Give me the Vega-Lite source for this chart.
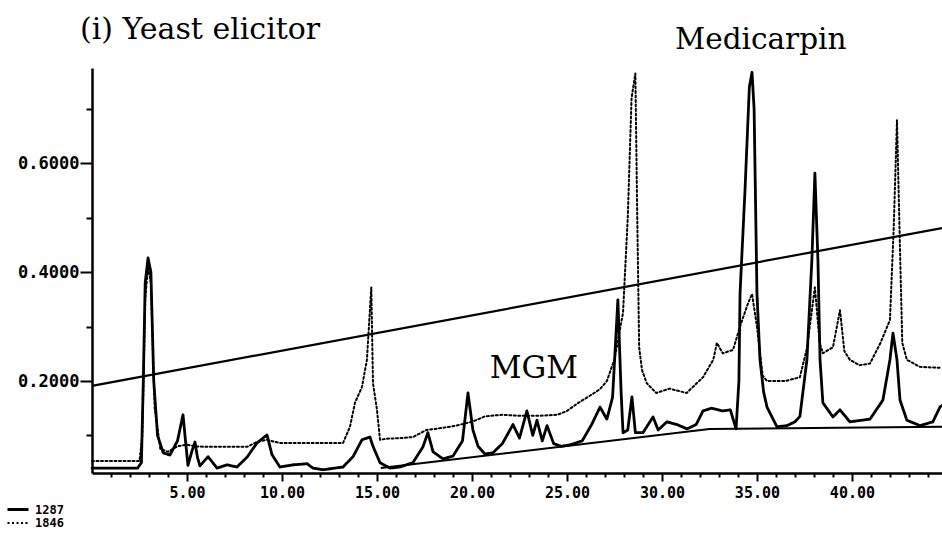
{
  "$schema": "https://vega.github.io/schema/vega-lite/v6.json",
  "autosize": {"type": "none"},
  "padding": {"left": 92, "top": 68, "right": 0, "bottom": 80},
  "width": 850,
  "height": 405,
  "background": "white",
  "config": {"view": {"stroke": null}, "axis": {"grid": false, "domainColor": "black", "tickColor": "black", "labelColor": "black"}},
  "datasets": {
    "traces": [
      {"t":0,"v":0.040,"s":"1287"},{"t":2.4,"v":0.040,"s":"1287"},{"t":2.6,"v":0.05,"s":"1287"},{"t":2.7,"v":0.20,"s":"1287"},{"t":2.8,"v":0.38,"s":"1287"},{"t":2.95,"v":0.426,"s":"1287"},{"t":3.1,"v":0.40,"s":"1287"},{"t":3.25,"v":0.20,"s":"1287"},{"t":3.45,"v":0.10,"s":"1287"},{"t":3.75,"v":0.068,"s":"1287"},{"t":4.1,"v":0.064,"s":"1287"},{"t":4.5,"v":0.09,"s":"1287"},{"t":4.79,"v":0.138,"s":"1287"},{"t":4.95,"v":0.08,"s":"1287"},{"t":5.05,"v":0.045,"s":"1287"},{"t":5.25,"v":0.07,"s":"1287"},{"t":5.42,"v":0.088,"s":"1287"},{"t":5.55,"v":0.06,"s":"1287"},{"t":5.68,"v":0.044,"s":"1287"},{"t":6.11,"v":0.061,"s":"1287"},{"t":6.58,"v":0.040,"s":"1287"},{"t":7.11,"v":0.046,"s":"1287"},{"t":7.63,"v":0.042,"s":"1287"},{"t":8.16,"v":0.06,"s":"1287"},{"t":8.68,"v":0.086,"s":"1287"},{"t":9.21,"v":0.101,"s":"1287"},{"t":9.47,"v":0.065,"s":"1287"},{"t":9.89,"v":0.042,"s":"1287"},{"t":10.58,"v":0.046,"s":"1287"},{"t":11.32,"v":0.048,"s":"1287"},{"t":11.63,"v":0.040,"s":"1287"},{"t":12.16,"v":0.037,"s":"1287"},{"t":13.21,"v":0.042,"s":"1287"},{"t":13.74,"v":0.061,"s":"1287"},{"t":14.21,"v":0.092,"s":"1287"},{"t":14.63,"v":0.097,"s":"1287"},{"t":14.79,"v":0.08,"s":"1287"},{"t":15.16,"v":0.05,"s":"1287"},{"t":15.68,"v":0.040,"s":"1287"},{"t":16.21,"v":0.042,"s":"1287"},{"t":16.89,"v":0.050,"s":"1287"},{"t":17.42,"v":0.079,"s":"1287"},{"t":17.68,"v":0.105,"s":"1287"},{"t":17.95,"v":0.07,"s":"1287"},{"t":18.47,"v":0.057,"s":"1287"},{"t":19.0,"v":0.062,"s":"1287"},{"t":19.5,"v":0.09,"s":"1287"},{"t":19.79,"v":0.178,"s":"1287"},{"t":20.05,"v":0.11,"s":"1287"},{"t":20.32,"v":0.08,"s":"1287"},{"t":20.68,"v":0.066,"s":"1287"},{"t":21.1,"v":0.068,"s":"1287"},{"t":21.6,"v":0.085,"s":"1287"},{"t":22.16,"v":0.12,"s":"1287"},{"t":22.5,"v":0.095,"s":"1287"},{"t":22.89,"v":0.145,"s":"1287"},{"t":23.2,"v":0.1,"s":"1287"},{"t":23.42,"v":0.128,"s":"1287"},{"t":23.7,"v":0.09,"s":"1287"},{"t":23.95,"v":0.118,"s":"1287"},{"t":24.3,"v":0.085,"s":"1287"},{"t":24.7,"v":0.08,"s":"1287"},{"t":25.2,"v":0.083,"s":"1287"},{"t":25.8,"v":0.09,"s":"1287"},{"t":26.3,"v":0.12,"s":"1287"},{"t":26.74,"v":0.152,"s":"1287"},{"t":27.1,"v":0.13,"s":"1287"},{"t":27.4,"v":0.17,"s":"1287"},{"t":27.68,"v":0.349,"s":"1287"},{"t":27.85,"v":0.18,"s":"1287"},{"t":27.95,"v":0.105,"s":"1287"},{"t":28.2,"v":0.11,"s":"1287"},{"t":28.42,"v":0.171,"s":"1287"},{"t":28.6,"v":0.105,"s":"1287"},{"t":29.0,"v":0.105,"s":"1287"},{"t":29.53,"v":0.134,"s":"1287"},{"t":29.8,"v":0.11,"s":"1287"},{"t":30.26,"v":0.125,"s":"1287"},{"t":30.79,"v":0.12,"s":"1287"},{"t":31.32,"v":0.112,"s":"1287"},{"t":31.8,"v":0.12,"s":"1287"},{"t":32.16,"v":0.145,"s":"1287"},{"t":32.6,"v":0.15,"s":"1287"},{"t":33.2,"v":0.145,"s":"1287"},{"t":33.6,"v":0.147,"s":"1287"},{"t":33.9,"v":0.112,"s":"1287"},{"t":34.05,"v":0.2,"s":"1287"},{"t":34.11,"v":0.361,"s":"1287"},{"t":34.37,"v":0.55,"s":"1287"},{"t":34.6,"v":0.74,"s":"1287"},{"t":34.74,"v":0.767,"s":"1287"},{"t":34.85,"v":0.7,"s":"1287"},{"t":35.0,"v":0.361,"s":"1287"},{"t":35.16,"v":0.239,"s":"1287"},{"t":35.35,"v":0.18,"s":"1287"},{"t":35.53,"v":0.152,"s":"1287"},{"t":36.05,"v":0.116,"s":"1287"},{"t":36.58,"v":0.118,"s":"1287"},{"t":37.0,"v":0.125,"s":"1287"},{"t":37.26,"v":0.135,"s":"1287"},{"t":37.63,"v":0.239,"s":"1287"},{"t":37.89,"v":0.422,"s":"1287"},{"t":38.05,"v":0.582,"s":"1287"},{"t":38.21,"v":0.422,"s":"1287"},{"t":38.32,"v":0.239,"s":"1287"},{"t":38.47,"v":0.16,"s":"1287"},{"t":39.0,"v":0.134,"s":"1287"},{"t":39.37,"v":0.147,"s":"1287"},{"t":39.89,"v":0.125,"s":"1287"},{"t":40.95,"v":0.13,"s":"1287"},{"t":41.63,"v":0.165,"s":"1287"},{"t":42.0,"v":0.239,"s":"1287"},{"t":42.16,"v":0.288,"s":"1287"},{"t":42.37,"v":0.239,"s":"1287"},{"t":42.53,"v":0.165,"s":"1287"},{"t":42.89,"v":0.128,"s":"1287"},{"t":43.58,"v":0.118,"s":"1287"},{"t":44.26,"v":0.125,"s":"1287"},{"t":44.63,"v":0.152,"s":"1287"},{"t":44.74,"v":0.155,"s":"1287"},
      {"t":0,"v":0.053,"s":"1846"},{"t":2.5,"v":0.053,"s":"1846"},{"t":2.65,"v":0.1,"s":"1846"},{"t":2.8,"v":0.35,"s":"1846"},{"t":2.95,"v":0.41,"s":"1846"},{"t":3.1,"v":0.38,"s":"1846"},{"t":3.3,"v":0.15,"s":"1846"},{"t":3.6,"v":0.075,"s":"1846"},{"t":4.0,"v":0.07,"s":"1846"},{"t":4.5,"v":0.08,"s":"1846"},{"t":5.0,"v":0.083,"s":"1846"},{"t":5.42,"v":0.08,"s":"1846"},{"t":6.0,"v":0.079,"s":"1846"},{"t":7.0,"v":0.079,"s":"1846"},{"t":8.16,"v":0.079,"s":"1846"},{"t":8.68,"v":0.088,"s":"1846"},{"t":9.21,"v":0.092,"s":"1846"},{"t":9.89,"v":0.086,"s":"1846"},{"t":11.0,"v":0.086,"s":"1846"},{"t":12.5,"v":0.086,"s":"1846"},{"t":13.21,"v":0.086,"s":"1846"},{"t":13.58,"v":0.116,"s":"1846"},{"t":13.84,"v":0.16,"s":"1846"},{"t":14.21,"v":0.189,"s":"1846"},{"t":14.47,"v":0.239,"s":"1846"},{"t":14.7,"v":0.372,"s":"1846"},{"t":14.79,"v":0.196,"s":"1846"},{"t":15.0,"v":0.147,"s":"1846"},{"t":15.16,"v":0.092,"s":"1846"},{"t":15.5,"v":0.094,"s":"1846"},{"t":16.21,"v":0.095,"s":"1846"},{"t":16.89,"v":0.097,"s":"1846"},{"t":17.6,"v":0.11,"s":"1846"},{"t":18.47,"v":0.114,"s":"1846"},{"t":19.16,"v":0.118,"s":"1846"},{"t":20.0,"v":0.125,"s":"1846"},{"t":20.68,"v":0.135,"s":"1846"},{"t":21.6,"v":0.138,"s":"1846"},{"t":22.5,"v":0.136,"s":"1846"},{"t":23.5,"v":0.136,"s":"1846"},{"t":24.5,"v":0.138,"s":"1846"},{"t":25.0,"v":0.145,"s":"1846"},{"t":25.6,"v":0.16,"s":"1846"},{"t":26.3,"v":0.175,"s":"1846"},{"t":26.74,"v":0.185,"s":"1846"},{"t":27.1,"v":0.2,"s":"1846"},{"t":27.5,"v":0.24,"s":"1846"},{"t":27.95,"v":0.325,"s":"1846"},{"t":28.2,"v":0.5,"s":"1846"},{"t":28.4,"v":0.72,"s":"1846"},{"t":28.6,"v":0.765,"s":"1846"},{"t":28.7,"v":0.5,"s":"1846"},{"t":28.8,"v":0.262,"s":"1846"},{"t":28.95,"v":0.22,"s":"1846"},{"t":29.2,"v":0.196,"s":"1846"},{"t":29.7,"v":0.178,"s":"1846"},{"t":30.4,"v":0.186,"s":"1846"},{"t":31.3,"v":0.178,"s":"1846"},{"t":32.16,"v":0.207,"s":"1846"},{"t":32.7,"v":0.239,"s":"1846"},{"t":32.89,"v":0.27,"s":"1846"},{"t":33.2,"v":0.251,"s":"1846"},{"t":33.74,"v":0.257,"s":"1846"},{"t":34.11,"v":0.3,"s":"1846"},{"t":34.5,"v":0.34,"s":"1846"},{"t":34.74,"v":0.36,"s":"1846"},{"t":35.0,"v":0.3,"s":"1846"},{"t":35.3,"v":0.21,"s":"1846"},{"t":35.53,"v":0.2,"s":"1846"},{"t":36.5,"v":0.2,"s":"1846"},{"t":37.26,"v":0.207,"s":"1846"},{"t":37.63,"v":0.26,"s":"1846"},{"t":38.05,"v":0.372,"s":"1846"},{"t":38.3,"v":0.27,"s":"1846"},{"t":38.47,"v":0.251,"s":"1846"},{"t":39.0,"v":0.262,"s":"1846"},{"t":39.37,"v":0.33,"s":"1846"},{"t":39.6,"v":0.255,"s":"1846"},{"t":39.89,"v":0.239,"s":"1846"},{"t":40.4,"v":0.229,"s":"1846"},{"t":40.95,"v":0.232,"s":"1846"},{"t":41.5,"v":0.27,"s":"1846"},{"t":42.0,"v":0.312,"s":"1846"},{"t":42.2,"v":0.483,"s":"1846"},{"t":42.37,"v":0.679,"s":"1846"},{"t":42.53,"v":0.44,"s":"1846"},{"t":42.65,"v":0.27,"s":"1846"},{"t":42.89,"v":0.239,"s":"1846"},{"t":43.58,"v":0.226,"s":"1846"},{"t":44.74,"v":0.224,"s":"1846"}
    ],
    "gradient": [{"t":0,"v":0.191},{"t":44.74,"v":0.481}],
    "baseline": [{"t":15.2,"v":0.040},{"t":32.5,"v":0.112},{"t":44.74,"v":0.116}],
    "labels": [
      {"t":35.2,"v":0.81,"label":"Medicarpin","size":29.5},
      {"t":23.26,"v":0.205,"label":"MGM","size":31}
    ],
    "heading": [
      {"t":-0.63,"v":0.829,"label":"(i) Yeast elicitor"}
    ]
  },
  "resolve": {"axis": {"x": "independent", "y": "independent"}},
  "layer": [
    {
      "data": {"name": "traces"},
      "mark": {"type": "line", "color": "black", "strokeCap": "round", "strokeJoin": "round"},
      "encoding": {
        "x": {"field": "t", "type": "quantitative", "scale": {"domain": [0, 44.74], "nice": false, "zero": false},
              "axis": {"orient": "bottom", "title": null, "values": [5,10,15,20,25,30,35,40], "format": ".2f", "tickSize": 8, "tickWidth": 2, "domainWidth": 2.5, "labelFont": "DejaVu Sans Mono", "labelFontWeight": "bold", "labelFontSize": 15, "labelPadding": 4}},
        "y": {"field": "v", "type": "quantitative", "scale": {"domain": [0.031, 0.775], "nice": false, "zero": false},
              "axis": {"orient": "left", "title": null, "values": [0.2, 0.4, 0.6], "format": ".4f", "tickSize": 12, "tickWidth": 2, "domainWidth": 2.5, "labelFont": "DejaVu Sans Mono", "labelFontWeight": "bold", "labelFontSize": 17, "labelPadding": 1}},
        "detail": {"field": "s"},
        "strokeDash": {"field": "s", "type": "nominal", "scale": {"domain": ["1287", "1846"], "range": [[1, 0], [2, 2.5]]},
                       "legend": {"title": null, "orient": "none", "legendX": -74, "legendY": 434, "symbolType": "M-3,0H0.5", "symbolSize": 144, "symbolStrokeWidth": 2, "symbolStrokeColor": "black", "labelFont": "DejaVu Sans Mono", "labelFontWeight": "bold", "labelFontSize": 12, "labelColor": "black", "rowPadding": 0, "labelOffset": 2}},
        "strokeWidth": {"field": "s", "type": "nominal", "scale": {"domain": ["1287", "1846"], "range": [2.8, 2]}, "legend": null}
      }
    },
    {
      "data": {"name": "gradient"},
      "mark": {"type": "line", "color": "black", "strokeWidth": 2.2},
      "encoding": {
        "x": {"field": "t", "type": "quantitative", "axis": {"orient": "bottom", "title": null, "values": [1,2,3,4,6,7,8,9,11,12,13,14,16,17,18,19,21,22,23,24,26,27,28,29,31,32,33,34,36,37,38,39,41,42,43,44], "labels": false, "domain": false, "tickSize": 4, "tickWidth": 2}},
        "y": {"field": "v", "type": "quantitative", "axis": {"orient": "left", "title": null, "values": [0.1, 0.3, 0.5, 0.7], "labels": false, "domain": false, "tickSize": 6, "tickWidth": 2}}
      }
    },
    {
      "data": {"name": "baseline"},
      "mark": {"type": "line", "color": "black", "strokeWidth": 2},
      "encoding": {
        "x": {"field": "t", "type": "quantitative", "axis": null},
        "y": {"field": "v", "type": "quantitative", "axis": null}
      }
    },
    {
      "data": {"name": "labels"},
      "mark": {"type": "text", "font": "DejaVu Serif", "baseline": "alphabetic", "align": "center", "color": "black"},
      "encoding": {
        "x": {"field": "t", "type": "quantitative", "axis": null},
        "y": {"field": "v", "type": "quantitative", "axis": null},
        "text": {"field": "label"},
        "size": {"field": "size", "type": "quantitative", "scale": null}
      }
    },
    {
      "data": {"name": "heading"},
      "mark": {"type": "text", "font": "DejaVu Serif", "fontSize": 30, "baseline": "alphabetic", "align": "left", "color": "black"},
      "encoding": {
        "x": {"field": "t", "type": "quantitative", "axis": null},
        "y": {"field": "v", "type": "quantitative", "axis": null},
        "text": {"field": "label"}
      }
    }
  ]
}
